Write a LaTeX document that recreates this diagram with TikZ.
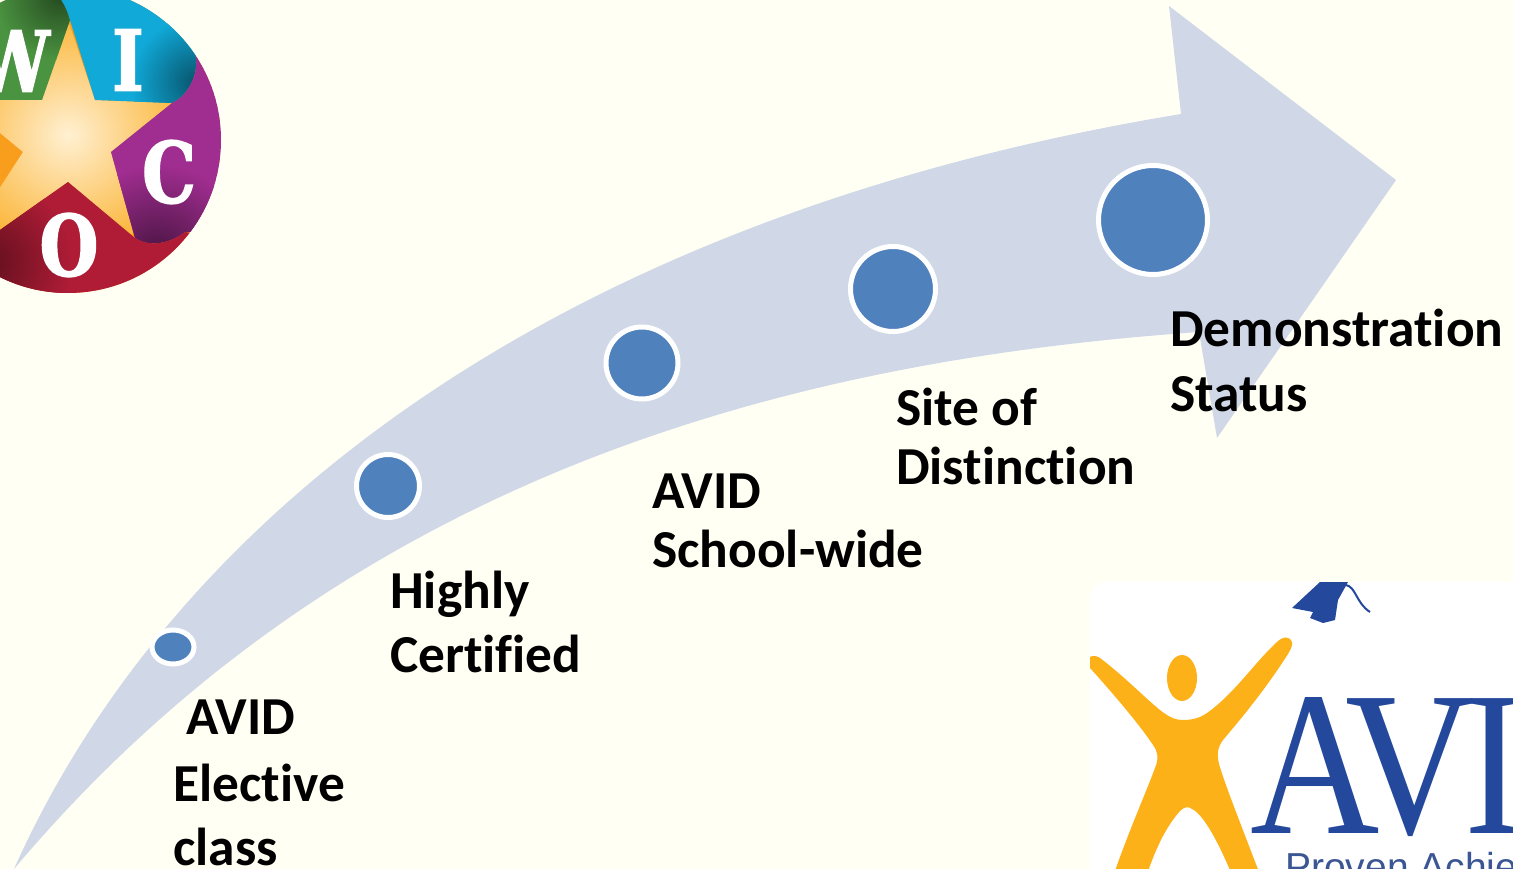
\documentclass[tikz,border=0pt]{standalone}
\usepackage{fontspec}
\usetikzlibrary{shapes.geometric}
\setmainfont{Carlito}[Ligatures=NoCommon]
\newfontfamily\logoserif{DejaVu Serif}[BoldFeatures={FakeStretch=0.8,FakeBold=2}]
\newfontfamily\avidserif{Liberation Serif}[FakeStretch=0.87]
\newfontfamily\avidsans{Liberation Sans}
\definecolor{bgc}{HTML}{FFFFF3}
\definecolor{arrowc}{HTML}{D0D8E8}
\definecolor{dotc}{HTML}{4F81BD}
\definecolor{avidblue}{HTML}{24489B}
\definecolor{avidyellow}{HTML}{FDB118}
\definecolor{wgreen}{HTML}{4A9340}
\definecolor{icyan}{HTML}{10A9D8}
\definecolor{cpurple}{HTML}{A02D90}
\definecolor{ored}{HTML}{B01C36}
\definecolor{rorange}{HTML}{F99D1C}
\definecolor{starin}{HTML}{FFF0D2}
\definecolor{starout}{HTML}{FBB63A}
\newcommand{\fl}{\rule{0pt}{40pt}}
\tikzset{
  x=1pt,y=-1pt,
  dot/.style={draw=white,line width=5pt,fill=dotc,inner sep=0pt},
  lab/.style={align=left,anchor=north west,inner sep=0pt,font=\fontsize{53.4}{64}\selectfont\bfseries,text=black},
  labtight/.style={lab,font=\fontsize{53.4}{59}\selectfont\bfseries},
  logoletter/.style={text=white,inner sep=0pt,font=\logoserif\bfseries\fontsize{84}{84}\selectfont},
}
\begin{document}
\begin{tikzpicture}
\useasboundingbox (0,0) rectangle (1513,869);
\clip (0,0) rectangle (1513,869);
\fill[bgc] (0,0) rectangle (1513,869);
% sweeping arrow
\fill[arrowc] (14,869) .. controls (170,520) and (550,218) .. (1181,114)
  -- (1169,6) -- (1396,180) -- (1217,438) -- (1199,332)
  .. controls (800,360) and (350,470) .. (14,869) -- cycle;
% circles
\node[dot,ellipse,minimum width=42pt,minimum height=34pt] (n1) at (173,647) {};
\node[dot,circle,minimum size=63pt] (n2) at (388,486) {};
\node[dot,circle,minimum size=72pt] (n3) at (642,363) {};
\node[dot,circle,minimum size=85pt] (n4) at (893,289) {};
\node[dot,circle,minimum size=109pt] (n5) at (1153,220) {};
% labels
\node[lab] (t1a) at (186,694) {\fl AVID};
\node[lab] (t1b) at (173,761) {\fl Elective\\class};
\node[lab] (t2) at (390,568) {\fl Highly\\Certified};
\node[labtight] (t3) at (652,468) {\fl AVID\\School-wide};
\node[labtight] (t4) at (896,385) {\fl Site of\\Distinction};
\node[lab,font=\fontsize{53.4}{65}\selectfont\bfseries] (t5) at (1170,306) {\fl Demonstration\\Status};
% WICOR logo
\begin{scope}
\clip (68,140) circle (153);
\fill[rorange] (68,140) circle (153);
\begin{scope}
\clip (-40,100) -- (42,100) -- (68,20) -- (95,100) -- (172,103) -- (111,152) -- (135,238) -- (68,182) -- (0,230) -- (-60,280) -- (23,152) -- cycle;
\shade[inner color=starin,outer color=starout] (68,135) circle (118);
\end{scope}
\begin{scope}
\clip (-40,100) -- (42,100) -- (70,20) .. controls (65,0) and (55,-10) .. (40,-20) -- (-40,-20) -- cycle;
\fill[wgreen] (-40,-20) rectangle (80,110);
\shade[inner color=wgreen!50!black,outer color=wgreen] (60,-5) circle (65);
\end{scope}
\begin{scope}
\clip (42,-20) .. controls (60,-5) and (66,5) .. (70,20) -- (95,100) -- (172,103)
  .. controls (190,95) and (200,70) .. (195,53) -- (230,0) -- (200,-30) -- cycle;
\fill[icyan] (30,-40) rectangle (240,110);
\shade[inner color=icyan!50!black,outer color=icyan] (196,82) circle (65);
\end{scope}
\begin{scope}
\clip (172,103) .. controls (190,95) and (200,70) .. (195,53) -- (240,60) -- (240,230) -- (185,232)
  .. controls (165,247) and (145,245) .. (135,238) -- (111,152) -- cycle;
\fill[cpurple] (100,40) rectangle (250,260);
\shade[inner color=cpurple!45!black,outer color=cpurple] (158,255) circle (90);
\end{scope}
\begin{scope}
\clip (135,238) .. controls (145,245) and (165,247) .. (185,232) -- (240,240) -- (120,320) -- (-30,320) -- (-30,250) -- (0,230) -- (68,182) -- cycle;
\fill[ored] (-40,170) rectangle (250,330);
\shade[inner color=ored!55!black,outer color=ored] (-12,262) circle (85);
\end{scope}
\end{scope}
\node[logoletter] (w) at (12,61) {W};
\node[logoletter] (i) at (128,60) {I};
\node[logoletter] (c) at (169,172) {C};
\node[logoletter] (o) at (69,245) {O};
% AVID logo
\begin{scope}
\clip[rounded corners=16pt] (1090,582) rectangle (1560,920);
\fill[white] (1090,582) rectangle (1560,920);
\fill[avidblue] (1292,608) -- (1320,582) -- (1348,582) -- (1338,600) -- (1335,620) -- (1323,623) -- (1310,618) -- (1313,612) -- cycle;
\draw[avidblue,line width=2pt] (1346,585) .. controls (1356,587) and (1356,603) .. (1370,612);
\fill[avidyellow] (1090,657) .. controls (1093,655) and (1097,656) .. (1100,658)
  .. controls (1125,677) and (1145,698) .. (1160,710)
  .. controls (1170,718) and (1176,720) .. (1183,720)
  .. controls (1192,720) and (1200,718) .. (1207,713)
  .. controls (1235,693) and (1255,662) .. (1277,642)
  .. controls (1283,636) and (1290,636) .. (1292,642)
  .. controls (1293,646) and (1290,650) .. (1288,654)
  .. controls (1265,690) and (1240,720) .. (1223,740)
  .. controls (1217,748) and (1217,755) .. (1219,764)
  .. controls (1225,785) and (1245,835) .. (1262,880)
  -- (1234,880) .. controls (1222,850) and (1205,815) .. (1192,809)
  .. controls (1188,806) and (1184,807) .. (1180,811)
  .. controls (1165,828) and (1155,850) .. (1145,880)
  -- (1112,880) .. controls (1125,840) and (1145,795) .. (1155,768)
  .. controls (1159,758) and (1158,752) .. (1153,745)
  .. controls (1140,725) and (1110,690) .. (1090,668) -- cycle;
\fill[avidyellow] (1182,678) ellipse [x radius=15,y radius=23];
\node[anchor=base west,inner sep=0pt,text=avidblue,font=\avidserif\fontsize{206}{206}\selectfont] (avid) at (1250,833) {A\kern-34pt V\kern-11pt ID};
\node[anchor=base west,inner sep=0pt,text=avidblue!75!gray,font=\avidsans\fontsize{39}{39}\selectfont] (prov) at (1285,880) {Proven Achievement};
\end{scope}
\end{tikzpicture}
\end{document}
